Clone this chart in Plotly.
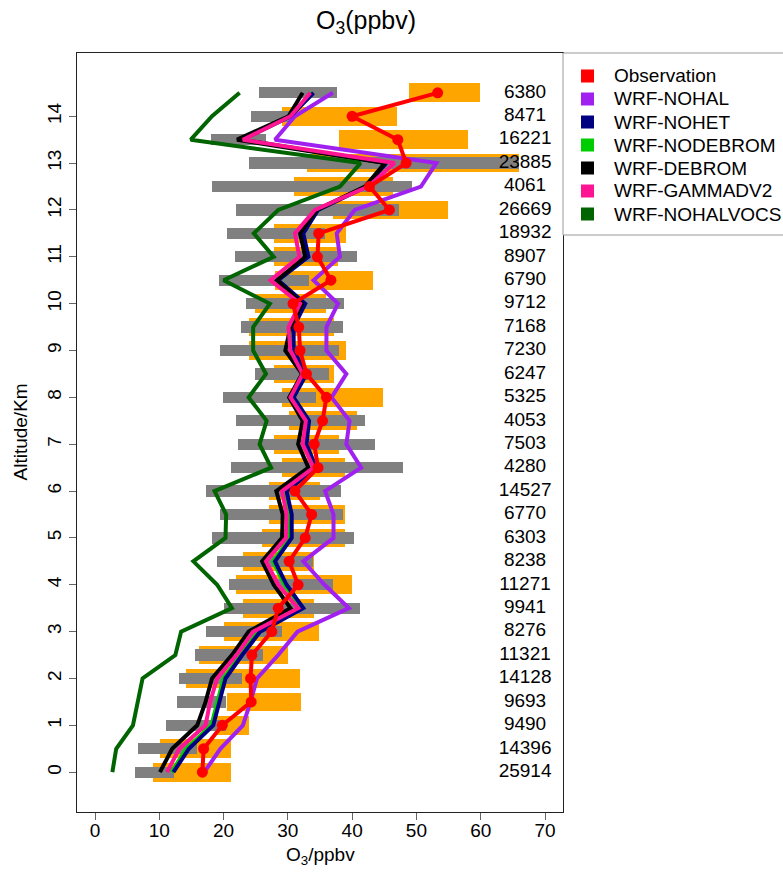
import plotly.graph_objects as go

# ---------------- data ----------------
altitude = [0, 0.5, 1, 1.5, 2, 2.5, 3, 3.5, 4, 4.5, 5, 5.5, 6, 6.5, 7, 7.5,
            8, 8.5, 9, 9.5, 10, 10.5, 11, 11.5, 12, 12.5, 13, 13.5, 14, 14.5]

counts = [25914, 14396, 9490, 9693, 14128, 11321, 8276, 9941, 11271, 8238,
          6303, 6770, 14527, 4280, 7503, 4053, 5325, 6247, 7230, 7168,
          9712, 6790, 8907, 18932, 26669, 4061, 23885, 16221, 8471, 6380]

# observation range (orange bars)
obs_lo = [9.0, 10.1, 19.0, 20.5, 14.1, 16.2, 20.1, 23.0, 22.0, 23.0,
          26.0, 27.0, 27.0, 29.1, 27.9, 30.1, 29.1, 27.9, 24.0, 24.0,
          24.9, 28.0, 27.9, 27.9, 37.0, 31.0, 32.9, 37.9, 29.1, 48.9]
obs_hi = [21.1, 21.1, 24.0, 32.0, 31.9, 30.0, 34.9, 34.0, 39.9, 34.0,
          38.9, 38.9, 35.0, 38.9, 37.9, 40.8, 44.8, 37.2, 39.0, 37.1,
          36.0, 43.2, 37.8, 39.0, 54.9, 46.3, 66.0, 58.0, 47.0, 59.9]

# model range (gray bars)
mod_lo = [6.2, 6.7, 11.0, 12.8, 13.1, 15.6, 17.3, 20.0, 20.9, 18.9,
          18.2, 19.4, 17.3, 21.2, 22.2, 22.0, 19.9, 24.9, 19.5, 22.7,
          23.5, 19.3, 21.7, 20.5, 22.0, 18.2, 24.0, 18.1, 24.2, 25.5]
mod_hi = [12.3, 15.9, 20.4, 20.4, 22.8, 26.1, 29.1, 41.2, 37.0, 33.9,
          40.3, 38.5, 38.3, 47.9, 43.5, 42.0, 34.3, 36.4, 37.9, 38.6,
          38.8, 33.3, 40.7, 35.8, 47.3, 49.3, 66.0, 26.6, 30.7, 37.6]

observation = [16.7, 16.9, 19.8, 24.3, 24.2, 24.4, 27.5, 28.5, 31.6, 30.2,
               32.7, 33.7, 31.1, 34.7, 34.1, 35.4, 36.0, 32.9, 31.9, 31.7,
               30.8, 36.7, 34.6, 34.8, 45.8, 42.7, 48.4, 47.1, 40.0, 53.3]
wrf_nohal = [17.0, 19.5, 23.0, 24.2, 25.2, 28.5, 31.5, 39.5, 35.7, 32.4,
             37.1, 37.1, 35.8, 41.4, 39.1, 39.6, 36.8, 39.1, 36.0, 36.0,
             37.8, 34.0, 38.1, 37.6, 40.4, 50.7, 53.1, 28.0, 31.1, 37.0]
wrf_nohet = [12.2, 14.6, 18.4, 19.4, 20.3, 22.9, 25.7, 32.4, 29.8, 28.0,
             30.6, 30.6, 29.8, 34.4, 32.9, 33.3, 30.9, 32.9, 30.9, 30.9,
             32.7, 28.5, 33.2, 32.4, 34.7, 42.2, 45.3, 22.9, 30.4, 34.0]
wrf_nodebrom = [11.9, 14.2, 18.1, 19.0, 20.0, 22.6, 25.4, 32.1, 29.5, 27.7,
                30.3, 30.3, 29.5, 34.1, 32.6, 33.0, 30.6, 32.6, 30.6, 30.6,
                32.5, 28.4, 33.0, 32.2, 34.6, 42.1, 45.2, 22.7, 30.3, 33.8]
wrf_debrom = [10.1, 12.0, 15.9, 17.2, 18.2, 21.3, 23.9, 30.4, 27.8, 26.0,
              29.1, 29.2, 28.2, 33.2, 31.6, 32.3, 30.2, 32.2, 29.6, 30.4,
              32.2, 28.3, 32.7, 31.9, 34.5, 42.0, 45.1, 22.1, 30.1, 32.3]
wrf_gammadv2 = [11.2, 13.1, 17.2, 17.9, 19.0, 22.0, 24.6, 31.6, 28.5, 26.6,
                29.7, 29.8, 29.1, 34.0, 32.3, 32.8, 30.4, 32.3, 30.4, 30.1,
                31.9, 27.3, 31.8, 31.1, 34.2, 42.5, 46.6, 23.0, 30.4, 33.5]
wrf_nohalvocs = [2.7, 3.3, 5.9, 6.6, 7.4, 12.5, 13.4, 21.3, 19.0, 15.3,
                 20.3, 20.4, 18.6, 27.4, 25.6, 26.7, 23.9, 26.6, 24.6, 24.6,
                 27.2, 20.0, 27.8, 24.7, 28.5, 38.1, 41.3, 14.9, 18.2, 22.5]

x_ticks = [0, 10, 20, 30, 40, 50, 60, 70]
y_ticks = list(range(0, 15))

# ---------------- styles ----------------
FONT = "Liberation Sans, Arial, Helvetica, sans-serif"
W, H = 783, 872
L, R, T, B = 77, 220, 53, 60
PW, PH = W - L - R, H - T - B
COUNT_X = 66.9
ORANGE = "#FFA500"
GRAY = "#808080"

def px_x(px):
    return (px - L) / PW

def px_y(py):
    return (H - B - py) / PH

colors = {
    "Observation": "#FF0000",
    "WRF-NOHAL": "#A020F0",
    "WRF-NOHET": "#000080",
    "WRF-NODEBROM": "#00CD00",
    "WRF-DEBROM": "#000000",
    "WRF-GAMMADV2": "#FF1493",
    "WRF-NOHALVOCS": "#006400",
}
legend_order = ["Observation", "WRF-NOHAL", "WRF-NOHET", "WRF-NODEBROM",
                "WRF-DEBROM", "WRF-GAMMADV2", "WRF-NOHALVOCS"]
draw_series = [
    ("WRF-NOHAL", wrf_nohal),
    ("WRF-NODEBROM", wrf_nodebrom),
    ("WRF-NOHET", wrf_nohet),
    ("WRF-DEBROM", wrf_debrom),
    ("WRF-GAMMADV2", wrf_gammadv2),
    ("WRF-NOHALVOCS", wrf_nohalvocs),
]

fig = go.Figure()

fig.add_trace(go.Bar(
    orientation="h", y=altitude,
    x=[h - l for l, h in zip(obs_lo, obs_hi)], base=obs_lo,
    width=0.4, marker=dict(color=ORANGE, line=dict(width=0)),
    showlegend=False, hoverinfo="skip"))
fig.add_trace(go.Bar(
    orientation="h", y=altitude,
    x=[h - l for l, h in zip(mod_lo, mod_hi)], base=mod_lo,
    width=0.24, marker=dict(color=GRAY, line=dict(width=0)),
    showlegend=False, hoverinfo="skip"))

for name, vals in draw_series:
    fig.add_trace(go.Scatter(
        x=vals, y=altitude, mode="lines", name=name,
        line=dict(color=colors[name], width=4), showlegend=False))

fig.add_trace(go.Scatter(
    x=observation, y=altitude, mode="lines+markers", name="Observation",
    line=dict(color=colors["Observation"], width=4),
    marker=dict(color=colors["Observation"], size=11), showlegend=False))

fig.add_trace(go.Scatter(
    x=[COUNT_X] * len(altitude), y=altitude, mode="text",
    text=[str(c) for c in counts], textposition="middle center",
    textfont=dict(family=FONT, size=19, color="black"),
    showlegend=False, hoverinfo="skip"))

# ---- legend box drawn manually (R-style) ----
shapes = [dict(type="rect", xref="paper", yref="paper",
               x0=px_x(563), x1=px_x(790), y0=px_y(235), y1=px_y(53),
               line=dict(color="#999999", width=1), fillcolor="white",
               layer="above")]
annotations = []
for i, name in enumerate(legend_order):
    cy = 76 + 23 * i
    shapes.append(dict(type="rect", xref="paper", yref="paper",
                       x0=px_x(581), x1=px_x(594), y0=px_y(cy + 6.5),
                       y1=px_y(cy - 6.5), line=dict(width=0),
                       fillcolor=colors[name], layer="above"))
    annotations.append(dict(text=name, xref="paper", yref="paper",
                            x=px_x(612), y=px_y(cy), xanchor="left",
                            yanchor="middle", showarrow=False,
                            font=dict(family=FONT, size=19, color="black")))

annotations.append(dict(text="Altitude/Km", xref="paper", yref="paper",
                        x=px_x(20), y=0.5, textangle=-90, showarrow=False,
                        xanchor="center", yanchor="middle",
                        font=dict(family=FONT, size=19, color="black")))
annotations.append(dict(text="O<sub>3</sub>/ppbv", xref="paper", yref="paper",
                        x=0.5, y=px_y(856), showarrow=False,
                        xanchor="center", yanchor="middle",
                        font=dict(family=FONT, size=19, color="black")))

fig.update_layout(
    width=W, height=H,
    margin=dict(l=L, r=R, t=T, b=B, autoexpand=False),
    plot_bgcolor="white", paper_bgcolor="white",
    barmode="overlay", bargap=0,
    font=dict(family=FONT, size=19, color="black"),
    title=dict(text="O<sub>3</sub>(ppbv)", x=366 / W, xanchor="center",
               y=1 - 20 / H, yanchor="middle",
               font=dict(family=FONT, size=25, color="black")),
    showlegend=False,
    shapes=shapes,
    annotations=annotations,
)

fig.update_xaxes(
    range=[-2.8, 72.8], tickvals=x_ticks, ticktext=[str(v) for v in x_ticks],
    showgrid=False, zeroline=False, showline=True, linecolor="#222222",
    linewidth=1.3, mirror=True, ticks="outside", ticklen=7,
    tickcolor="#666666", ticklabelstandoff=-6,
    tickfont=dict(family=FONT, size=19))
fig.update_yaxes(
    range=[-0.85, 15.35], tickvals=y_ticks, ticktext=[str(v) for v in y_ticks],
    showgrid=False, zeroline=False, showline=True, linecolor="#222222",
    linewidth=1.3, mirror=True, ticks="outside", ticklen=7,
    tickcolor="#666666", tickangle=-90, tickfont=dict(family=FONT, size=19))

fig.write_html("out.html",
               config={"displayModeBar": False},
               post_script="document.body.style.margin='0px';"
                           "document.body.style.padding='0px';")
